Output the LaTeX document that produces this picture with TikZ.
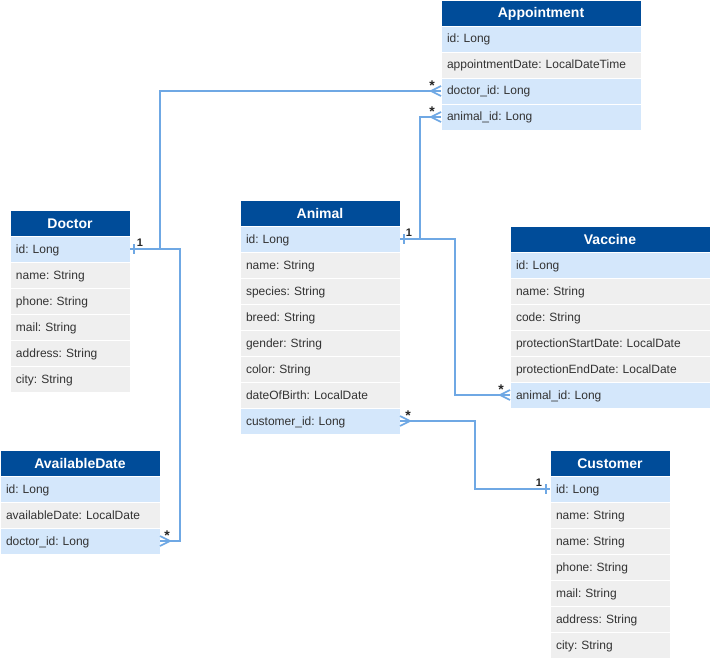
\documentclass[tikz,border=0pt]{standalone}
\usepackage{fontspec}
\setmainfont{Liberation Sans}
\usetikzlibrary{calc}
\definecolor{hdrc}{HTML}{004C99}
\definecolor{rbc}{HTML}{D4E7FB}
\definecolor{rgc}{HTML}{EFEFEF}
\definecolor{lnc}{HTML}{6FA8E4}
\begin{document}
\frenchspacing
\begin{tikzpicture}[x=1pt,y=-1pt,
  hdr/.style={fill=hdrc,text=white,font=\bfseries\fontsize{14}{16}\selectfont,minimum height=26pt,text height=12pt,text depth=2pt,inner sep=0pt,outer sep=0pt,anchor=north west,draw=white,line width=0.4pt},
  row/.style={font=\fontsize{12}{14}\selectfont,text=black!80,minimum height=26pt,text height=10pt,text depth=2pt,inner xsep=6pt,inner ysep=0pt,outer sep=0pt,align=left,anchor=north west,draw=white,line width=0.4pt},
  rb/.style={row,fill=rbc},
  rg/.style={row,fill=rgc},
  conn/.style={draw=lnc,line width=1.6pt},
  card/.style={font=\bfseries\fontsize{11}{12}\selectfont,inner sep=0pt,text=black!85},
  star/.style={font=\bfseries\fontsize{14}{14}\selectfont,inner sep=0pt,text=black!85}
]
\useasboundingbox (0,0) rectangle (710,661);

% Appointment
\node[hdr,minimum width=200pt] (aph) at (441,0) {Appointment};
\node[rb,text width=188pt] (apid) at (441,26) {id: Long};
\node[rg,text width=188pt] (apdt) at (441,52) {appointmentDate: LocalDateTime};
\node[rb,text width=188pt] (apd) at (441,78) {doctor\_id: Long};
\node[rb,text width=188pt] (apa) at (441,104) {animal\_id: Long};

% Doctor
\node[hdr,minimum width=120pt] (dh) at (10,210) {Doctor};
\node[rb,text width=108pt] (did) at (10,236) {id: Long};
\node[rg,text width=108pt] (dn) at (10,262) {name: String};
\node[rg,text width=108pt] (dp) at (10,288) {phone: String};
\node[rg,text width=108pt] (dm) at (10,314) {mail: String};
\node[rg,text width=108pt] (dad) at (10,340) {address: String};
\node[rg,text width=108pt] (dc) at (10,366) {city: String};

% Animal
\node[hdr,minimum width=160pt] (ah) at (240,200) {Animal};
\node[rb,text width=148pt] (aid) at (240,226) {id: Long};
\node[rg,text width=148pt] (an) at (240,252) {name: String};
\node[rg,text width=148pt] (asp) at (240,278) {species: String};
\node[rg,text width=148pt] (abr) at (240,304) {breed: String};
\node[rg,text width=148pt] (age) at (240,330) {gender: String};
\node[rg,text width=148pt] (aco) at (240,356) {color: String};
\node[rg,text width=148pt] (adb) at (240,382) {dateOfBirth: LocalDate};
\node[rb,text width=148pt] (acu) at (240,408) {customer\_id: Long};

% Vaccine
\node[hdr,minimum width=200pt] (vh) at (510,226) {Vaccine};
\node[rb,text width=188pt] (vid) at (510,252) {id: Long};
\node[rg,text width=188pt] (vn) at (510,278) {name: String};
\node[rg,text width=188pt] (vc) at (510,304) {code: String};
\node[rg,text width=188pt] (vps) at (510,330) {protectionStartDate: LocalDate};
\node[rg,text width=188pt] (vpe) at (510,356) {protectionEndDate: LocalDate};
\node[rb,text width=188pt] (van) at (510,382) {animal\_id: Long};

% AvailableDate
\node[hdr,minimum width=160pt] (adh) at (0,450) {AvailableDate};
\node[rb,text width=148pt] (adid) at (0,476) {id: Long};
\node[rg,text width=148pt] (adav) at (0,502) {availableDate: LocalDate};
\node[rb,text width=148pt] (add) at (0,528) {doctor\_id: Long};

% Customer
\node[hdr,minimum width=120pt] (ch) at (550,450) {Customer};
\node[rb,text width=108pt] (cid) at (550,476) {id: Long};
\node[rg,text width=108pt] (cn1) at (550,502) {name: String};
\node[rg,text width=108pt] (cn2) at (550,528) {name: String};
\node[rg,text width=108pt] (cp) at (550,554) {phone: String};
\node[rg,text width=108pt] (cm) at (550,580) {mail: String};
\node[rg,text width=108pt] (cad) at (550,606) {address: String};
\node[rg,text width=108pt] (cc) at (550,632) {city: String};

% Doctor -> Appointment
\draw[conn] (did.east) -- ++(30,0) |- (apd.west);
\draw[conn] ($(apd.west)+(-10,0)$) -- ($(apd.west)+(0,-5)$);
\draw[conn] ($(apd.west)+(-10,0)$) -- ($(apd.west)+(0,5)$);
\draw[conn] ($(did.east)+(4,-5)$) -- ++(0,10);
\node[card] at ($(did.east)+(10,-6)$) {1};
\node[star] at ($(apd.west)+(-9,-5)$) {*};

% Doctor -> AvailableDate
\draw[conn] (did.east) -- ++(50,0) |- (add.east);
\draw[conn] ($(add.east)+(10,0)$) -- ($(add.east)+(0,-5)$);
\draw[conn] ($(add.east)+(10,0)$) -- ($(add.east)+(0,5)$);
\node[star] at ($(add.east)+(7,-5)$) {*};

% Animal -> Appointment
\draw[conn] (aid.east) -- ++(20,0) |- (apa.west);
\draw[conn] ($(apa.west)+(-10,0)$) -- ($(apa.west)+(0,-5)$);
\draw[conn] ($(apa.west)+(-10,0)$) -- ($(apa.west)+(0,5)$);
\draw[conn] ($(aid.east)+(4,-5)$) -- ++(0,10);
\node[card] at ($(aid.east)+(9,-6)$) {1};
\node[star] at ($(apa.west)+(-9,-5)$) {*};

% Animal -> Vaccine
\draw[conn] (aid.east) -- ++(55,0) |- (van.west);
\draw[conn] ($(van.west)+(-10,0)$) -- ($(van.west)+(0,-5)$);
\draw[conn] ($(van.west)+(-10,0)$) -- ($(van.west)+(0,5)$);
\node[star] at ($(van.west)+(-9,-5)$) {*};

% Customer -> Animal
\draw[conn] (acu.east) -- ++(75,0) |- (cid.west);
\draw[conn] ($(acu.east)+(10,0)$) -- ($(acu.east)+(0,-5)$);
\draw[conn] ($(acu.east)+(10,0)$) -- ($(acu.east)+(0,5)$);
\draw[conn] ($(cid.west)+(-4,-5)$) -- ++(0,10);
\node[star] at ($(acu.east)+(8,-5)$) {*};
\node[card] at ($(cid.west)+(-11,-6)$) {1};
\end{tikzpicture}
\end{document}
